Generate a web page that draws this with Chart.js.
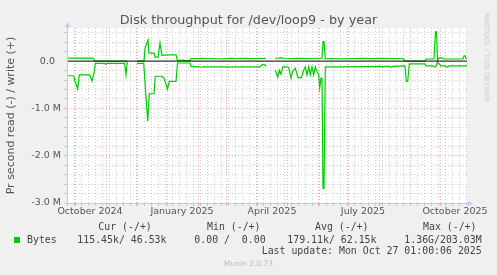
<!DOCTYPE html>
<html>
<head>
<meta charset="utf-8">
<script src="https://cdn.jsdelivr.net/npm/chart.js@4.4.1/dist/chart.umd.min.js"></script>
<style>
    html, body { margin: 0; padding: 0; background: #f0f0f0; overflow: hidden; }
    #wrap { position: relative; width: 497px; height: 275px; }
    #diskChart { position: absolute; left: 0; top: 0; }
    .txt { position: absolute; white-space: pre; line-height: 1; color: #555; font-family: "DejaVu Sans", sans-serif; }
    .mono { font-family: "DejaVu Sans Mono", monospace; font-size: 9.9px; color: #444; }
</style>
</head>
<body>
<div id="wrap">
    <canvas id="diskChart" width="497" height="275"></canvas>

    <div class="txt" style="left:0; width:497px; text-align:center; top:13.5px; font-size:12.8px;">Disk throughput for /dev/loop9 - by year</div>
    <div class="txt" style="left:436px; top:54px; width:100px; text-align:center; font-size:6.9px; color:#c8c8c8; transform:rotate(90deg);">RRDTOOL / TOBI OETIKER</div>

    <div class="txt mono" style="left:98.3px; top:222px;">Cur (-/+)</div>
    <div class="txt mono" style="left:207px; top:222px;">Min (-/+)</div>
    <div class="txt mono" style="left:315px; top:222px;">Avg (-/+)</div>
    <div class="txt mono" style="left:423px; top:222px;">Max (-/+)</div>

    <div style="position:absolute; left:14px; top:236.7px; width:6px; height:6px; background:#00cc00;"></div>
    <div class="txt mono" style="left:27px; top:235px;">Bytes</div>
    <div class="txt mono" style="left:77.3px; top:235px;">115.45k/ 46.53k</div>
    <div class="txt mono" style="left:194.3px; top:235px;">0.00 /  0.00</div>
    <div class="txt mono" style="left:287.3px; top:235px;">179.11k/ 62.15k</div>
    <div class="txt mono" style="left:404.3px; top:235px;">1.36G/203.03M</div>

    <div class="txt mono" style="left:261.7px; top:246.2px;">Last update: Mon Oct 27 01:00:06 2025</div>
    <div class="txt" style="left:0; width:497px; text-align:center; top:260.3px; font-size:7.5px; color:#bbb;">Munin 2.0.73</div>
</div>

<script>
// x values are days since Mon Sep 23 2024 (left edge of the year graph)
const writeDays = [0, 26, 28, 60, 61, 70, 77, 78, 81, 82, 87, 88, 91, 93, 95, 101, 109, 110.5, 116, 118, 123, 124,
    131, 133, 140, 153, 155, 158, 165, 170, 178, 185, 195, 197, 199, 200, 208, 212, 214, 216, 225, 230, 240,
    250, 255, 256, 257, 258.3, 265, 275, 285, 295, 305, 315, 325, 336, 338.5, 358, 359, 367, 368.5, 369.5,
    370.5, 372, 375, 376, 396, 397, 398, 399, 400];
const writeBytes = [63e3, 63e3, 0, 0, null, 0, 0, 270e3, 450e3, 170e3, 170e3, 85e3, 85e3, 380e3, 120e3, 130e3, 130e3, 10e3, 20e3, 10e3, 10e3, 55e3,
    55e3, 60e3, 55e3, 50e3, 45e3, 55e3, 60e3, 55e3, 60e3, 55e3, 55e3, 60e3, 55e3, null, 60e3, 65e3, 75e3, 60e3, 55e3, 60e3, 55e3,
    60e3, 60e3, 410e3, 410e3, 50e3, 55e3, 50e3, 55e3, 60e3, 55e3, 60e3, 55e3, 55e3, 0, 0, 45e3, 45e3, 620e3, 620e3,
    5e3, 70e3, 70e3, 45e3, 45e3, 110e3, 110e3, 50e3, 50e3];

const readDays = [0, 6.7, 8, 10.7, 12.3, 22.7, 25, 26.7, 28.3, 37.7, 38.5, 39.5, 57.7, 59, 60.3, 61, 70, 76.7,
    80.7, 82.3, 87, 88.3, 95, 97, 100.5, 102.3, 109, 110.5, 123, 124, 132, 134, 136, 160, 161, 163, 193, 195.5,
    198, 199, 200, 208.3, 210.7, 212.3, 214, 215.7, 220, 221.7, 224, 225.7, 228.3, 231, 234.3, 236.7, 238.3,
    240, 241.7, 243.3, 245, 246.7, 248.3, 250, 251.7, 252.7, 254, 255, 256, 257, 258.3, 275, 276, 277, 315,
    316, 318, 321, 324, 326, 338, 339.3, 340.7, 342.3, 358, 359, 365.7, 367, 368.7, 370.3, 372, 373.7, 378,
    379, 381, 382, 400];
const readBytes = [-310e3, -310e3, -420e3, -590e3, -290e3, -290e3, -420e3, -290e3, -50e3, -50e3, -70e3, -50e3, -50e3, -290e3, -20e3, null, -50e3, -50e3,
    -1270e3, -690e3, -690e3, -320e3, -320e3, -360e3, -590e3, -430e3, -430e3, -40e3, -40e3, -110e3, -120e3, -130e3, -120e3, -120e3, -130e3, -120e3, -120e3, -70e3,
    -80e3, -110e3, null, -190e3, -340e3, -190e3, -280e3, -120e3, -120e3, -140e3, -360e3, -210e3, -150e3, -350e3, -350e3, -190e3, -120e3,
    -290e3, -120e3, -290e3, -120e3, -290e3, -120e3, -220e3, -290e3, -570e3, -360e3, -360e3, -2690e3, -2690e3, -120e3, -120e3, -130e3, -120e3, -110e3,
    -125e3, -110e3, -110e3, -125e3, -110e3, -100e3, -430e3, -430e3, -60e3, -60e3, -100e3, -100e3, -120e3, -120e3, -30e3, -50e3, -100e3, -100e3,
    -120e3, -120e3, -100e3, -100e3];

// axis layout (days) and tick labels
const monthStarts = [8, 39, 69, 100, 131, 159, 190, 220, 251, 281, 312, 343, 373];
const labelDays = [23, 115, 205, 296, 388];
const labelTexts = ['October 2024', 'January 2025', 'April 2025', 'July 2025', 'October 2025'];

const GREEN = '#00cc00';
const GRID_GREY = 'rgba(150, 150, 150, 0.45)';
const GRID_RED = 'rgba(235, 90, 90, 0.5)';
const AXIS = '#c4c4ff';

function toPoints(days, vals) {
    return days.map((d, i) => ({ x: d, y: vals[i] }));
}

const weekTicks = [];
for (let d = 0; d <= 400; d += 7) weekTicks.push(d);
const gridDays = Array.from(new Set(weekTicks.concat(monthStarts)));
const allTicks = gridDays.concat(labelDays).sort((a, b) => a - b);

// white plot background, solid axis lines with rrdtool style arrows
const plotFrame = {
    id: 'plotFrame',
    beforeDraw(chart) {
        const { ctx, chartArea: a } = chart;
        ctx.save();
        ctx.fillStyle = '#ffffff';
        ctx.fillRect(a.left, a.top, a.right - a.left, a.bottom - a.top);
        ctx.restore();
    },
    afterDraw(chart) {
        const { ctx, chartArea: a } = chart;
        const l = Math.round(a.left) + 0.5, b = Math.round(a.bottom) + 0.5;
        ctx.save();
        ctx.strokeStyle = AXIS;
        ctx.fillStyle = AXIS;
        ctx.lineWidth = 1;
        ctx.beginPath();
        ctx.moveTo(l, a.bottom + 3); ctx.lineTo(l, a.top - 3);
        ctx.moveTo(a.left - 3, b); ctx.lineTo(a.right + 2, b);
        ctx.stroke();
        ctx.beginPath();
        ctx.moveTo(l - 2.5, a.top - 1); ctx.lineTo(l + 2.5, a.top - 1); ctx.lineTo(l, a.top - 6); ctx.closePath();
        ctx.fill();
        ctx.beginPath();
        ctx.moveTo(a.right + 1, b - 2.5); ctx.lineTo(a.right + 1, b + 2.5); ctx.lineTo(a.right + 6, b); ctx.closePath();
        ctx.fill();
        ctx.restore();
    }
};

const lineStyle = { borderColor: GREEN, borderWidth: 1.2, pointRadius: 0, tension: 0, spanGaps: false, fill: false };

new Chart(document.getElementById('diskChart'), {
    type: 'line',
    data: {
        datasets: [
            { label: 'zero', data: toPoints([0, 400], [0, 0]), borderColor: '#000000', borderWidth: 1, pointRadius: 0, order: -1 },
            Object.assign({ label: 'read', data: toPoints(readDays, readBytes) }, lineStyle),
            Object.assign({ label: 'write', data: toPoints(writeDays, writeBytes) }, lineStyle)
        ]
    },
    plugins: [plotFrame],
    options: {
        responsive: false,
        animation: false,
        layout: { padding: { top: 28, right: 30, left: 0, bottom: 0 } },
        plugins: {
            legend: { display: false },
            tooltip: { enabled: false },
            title: { display: false }
        },
        scales: {
            x: {
                type: 'linear',
                min: 0,
                max: 400,
                afterBuildTicks: s => { s.ticks = allTicks.map(v => ({ value: v })); },
                afterFit: s => { s.height = 72; s.paddingLeft = 0; s.paddingRight = 0; },
                grid: {
                    tickLength: 3,
                    color: c => {
                        const v = c.tick && c.tick.value;
                        if (labelDays.includes(v)) return 'rgba(0,0,0,0)';
                        return monthStarts.includes(v) ? GRID_RED : GRID_GREY;
                    }
                },
                border: { display: false, dash: [1, 2] },
                ticks: {
                    autoSkip: false,
                    maxRotation: 0,
                    minRotation: 0,
                    padding: 0,
                    color: '#555',
                    font: { family: 'DejaVu Sans', size: 9.5 },
                    callback: v => {
                        const i = labelDays.indexOf(v);
                        return i >= 0 ? labelTexts[i] : '';
                    }
                }
            },
            y: {
                min: -3.0e6,
                max: 0.7e6,
                afterBuildTicks: s => {
                    const t = [];
                    for (let i = -15; i <= 3; i++) t.push({ value: i * 2e5 });
                    s.ticks = t;
                },
                afterFit: s => { s.width = 67; },
                title: {
                    display: true,
                    text: 'Pr second read (-) / write (+)',
                    color: '#555',
                    font: { family: 'DejaVu Sans', size: 11 },
                    padding: { top: 5, bottom: 0 }
                },
                grid: {
                    tickLength: 3,
                    color: c => {
                        const i = Math.round(c.tick.value / 2e5);
                        if (i === 0) return 'rgba(0,0,0,0)';
                        return i % 5 === 0 ? GRID_RED : GRID_GREY;
                    }
                },
                border: { display: false, dash: [1, 2] },
                ticks: {
                    autoSkip: false,
                    padding: 3,
                    color: '#555',
                    font: { family: 'DejaVu Sans', size: 9.5 },
                    callback: v => {
                        const i = Math.round(v / 2e5);
                        if (i % 5 !== 0) return '';
                        return i === 0 ? '0.0  ' : (i / 5).toFixed(1) + ' M';
                    }
                }
            }
        }
    }
});
</script>
</body>
</html>
